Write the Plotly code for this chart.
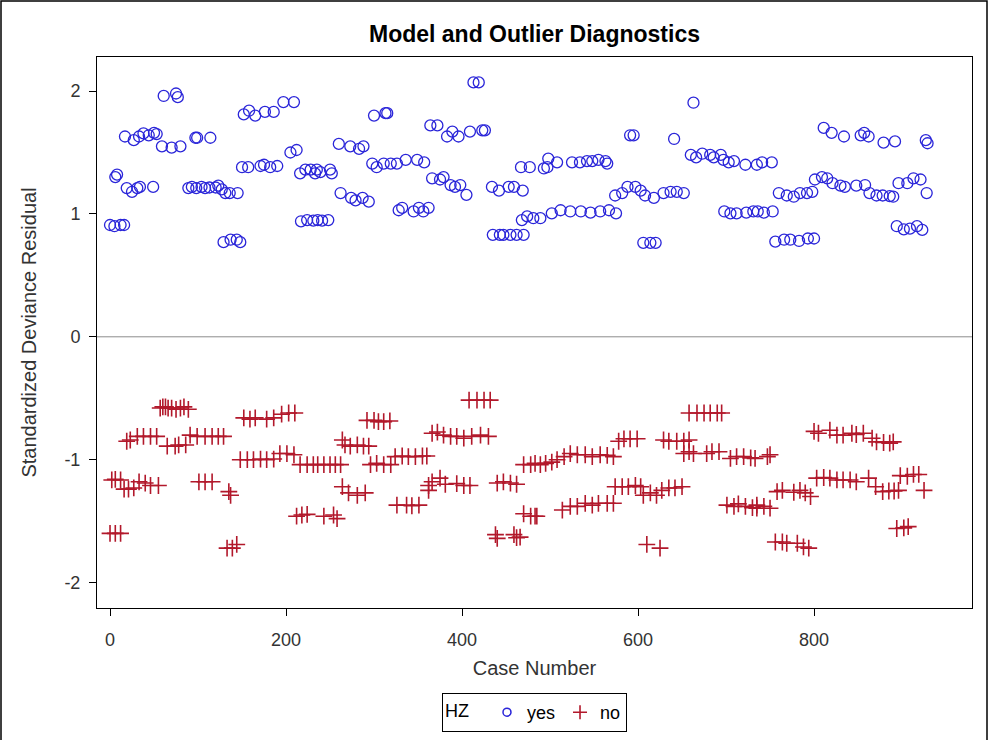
import plotly.graph_objects as go

# ---- data (case number, standardized deviance residual) ----
yes_case = [61, 75, 77,
            152, 158, 165, 176, 186, 197, 209,
            17, 27, 33, 38, 44, 50, 53,
            59, 70, 80,
            97, 99, 114,
            205, 212,
            6, 8,
            19, 25, 31, 34, 49,
            89, 93, 98, 104, 108, 113, 120, 123, 127, 131, 136, 145,
            150, 157, 171, 175, 182, 190,
            216, 222, 228, 233,
            0, 5, 12, 16,
            129, 137, 144, 148,
            217, 224, 231,
            413, 419,
            300, 313, 315,
            364, 372,
            383, 389, 396,
            409, 423, 426,
            260, 273, 283, 288,
            467, 477,
            235, 239, 250, 252,
            298, 303, 311, 319, 326, 336, 349, 357,
            366, 375, 379, 387, 392, 398, 405,
            434, 442, 453, 459, 469,
            262, 274, 279, 287, 294,
            328, 332, 345, 351, 356, 362,
            236, 241, 248,
            468, 474, 481,
            435, 443, 447, 455, 462, 470,
            663,
            591, 595,
            641,
            660, 666, 673, 682, 686, 694, 697, 703, 709,
            722, 735,
            498, 493, 497, 508,
            525, 534, 542, 548, 555, 563, 565,
            574, 582, 588, 597, 603, 608, 618, 629, 637, 644, 652,
            489, 502, 512, 523, 535, 546, 557, 567, 575,
            606, 614, 620,
            698, 705, 712, 723, 731,
            811, 820, 834, 853, 857, 862, 879, 892, 927, 929,
            741, 752,
            801, 809, 815, 821, 830, 835, 848, 858, 863, 871, 878, 886, 890,
            896, 906, 913, 921, 928,
            760, 769, 777, 784, 792, 798,
            736, 743, 753,
            894, 902, 909, 917, 923,
            756, 766, 773, 783, 793, 800]
yes_resid = [1.96, 1.98, 1.95,
             1.81, 1.84, 1.80, 1.83, 1.83, 1.91, 1.91,
             1.63, 1.60, 1.63, 1.655, 1.64, 1.66, 1.65,
             1.55, 1.54, 1.55,
             1.62, 1.62, 1.62,
             1.50, 1.52,
             1.30, 1.32,
             1.21, 1.18, 1.21, 1.22, 1.22,
             1.21, 1.22, 1.21, 1.22, 1.21, 1.215, 1.215, 1.23, 1.20, 1.17, 1.17, 1.17,
             1.38, 1.38, 1.39, 1.40, 1.38, 1.39,
             1.33, 1.36, 1.36, 1.33,
             0.91, 0.90, 0.91, 0.91,
             0.77, 0.79, 0.79, 0.77,
             0.94, 0.95, 0.945,
             2.07, 2.07,
             1.80, 1.82, 1.82,
             1.72, 1.72,
             1.63, 1.67, 1.63,
             1.67, 1.68, 1.68,
             1.57, 1.55, 1.53, 1.55,
             1.38, 1.38,
             1.36, 1.34, 1.36, 1.33,
             1.41, 1.38, 1.41, 1.41, 1.41, 1.44, 1.44, 1.42,
             1.29, 1.28, 1.30, 1.235, 1.22, 1.235, 1.155,
             1.22, 1.19, 1.22, 1.22, 1.19,
             1.17, 1.13, 1.11, 1.13, 1.10,
             1.03, 1.05, 1.02, 1.05, 1.02, 1.05,
             0.95, 0.945, 0.95,
             0.95, 0.98, 0.965,
             0.83, 0.83, 0.83, 0.83, 0.83, 0.83,
             1.905,
             1.64, 1.64,
             1.61,
             1.48, 1.46, 1.49, 1.48, 1.46, 1.48, 1.44, 1.42, 1.43,
             1.40, 1.40,
             1.45, 1.37, 1.38, 1.42,
             1.42, 1.42, 1.43, 1.43, 1.44, 1.43, 1.41,
             1.15, 1.17, 1.22, 1.22, 1.19, 1.15, 1.13, 1.17, 1.18, 1.18, 1.17,
             0.965, 1.005, 1.03, 1.02, 1.02, 1.01, 1.02, 1.03, 1.005,
             0.765, 0.765, 0.765,
             1.02, 1.005, 1.005, 1.01, 1.02,
             1.70, 1.66, 1.63, 1.64, 1.66, 1.63, 1.58, 1.59, 1.60, 1.575,
             1.42, 1.42,
             1.28, 1.30, 1.29, 1.25, 1.23, 1.22, 1.23, 1.235, 1.17, 1.15, 1.15, 1.145, 1.14,
             1.25, 1.25, 1.29, 1.28, 1.17,
             1.17, 1.15, 1.14, 1.17, 1.17, 1.18,
             1.02, 1.01, 1.02,
             0.90, 0.875, 0.88, 0.90, 0.87,
             0.775, 0.79, 0.79, 0.78, 0.80, 0.80]

no_case = [57, 60, 63, 66, 70, 75, 80, 84, 89,
           19, 23, 31, 38, 46, 53,
           65, 74, 78, 86,
           91, 99, 108, 116, 123, 129,
           152, 159, 165, 178, 186, 195, 203, 210,
           148, 156, 163, 171, 178, 186, 193, 201, 209, 216, 224, 231,
           2, 6, 12, 16, 21, 27,
           33, 40, 46, 55,
           101, 108, 116,
           135, 137,
           0, 6, 12,
           133, 139, 144,
           212, 218, 224,
           408, 417, 425, 432,
           292, 300, 305, 311, 318,
           366, 372, 379, 387, 394, 402, 411, 421, 430,
           264, 267, 273, 281, 288, 294,
           324, 332, 339, 347, 355, 360,
           296, 303, 311, 319,
           236, 243, 250, 256, 262,
           362, 366, 375, 381, 394, 402, 409,
           362,
           440, 447, 455, 462,
           264, 271, 281, 290,
           326, 337, 343, 351,
           243, 254, 258,
           470, 478, 483,
           470, 478, 483,
           438, 440,
           459, 462, 466,
           658, 667, 675, 682, 690, 695,
           578, 584, 591, 599,
           629, 635, 644, 652, 658,
           652, 658, 663, 678, 684, 692,
           705, 712, 720, 728, 733,
           489, 495, 502, 508, 516, 523, 531, 540, 548, 557, 565, 572,
           574, 582, 589, 597, 603, 606, 614, 621, 627, 635, 642, 650,
           514, 523, 531, 540, 548, 555, 565, 572,
           485,
           610, 625,
           701, 709, 714, 722, 730, 735,
           800, 805, 818, 826, 833, 843, 848, 856, 866, 871, 879, 886, 890,
           747, 750,
           803, 811, 818, 826, 833, 841, 848, 862,
           870, 878, 885, 891, 896, 925,
           898, 906, 913, 919,
           735, 743, 750,
           758, 764, 777, 784, 790, 796,
           894, 902, 907,
           756, 764, 769, 781, 788, 794]
no_resid = [-0.58, -0.57, -0.57, -0.58, -0.58, -0.59, -0.58, -0.57, -0.59,
            -0.85, -0.84, -0.81, -0.81, -0.81, -0.81,
            -0.89, -0.89, -0.88, -0.88,
            -0.80, -0.81, -0.81, -0.81, -0.81, -0.81,
            -0.66, -0.67, -0.66, -0.67, -0.66, -0.63, -0.62, -0.62,
            -1.00, -1.00, -1.00, -0.995, -1.00, -0.995, -0.95, -0.95, -0.96, -1.04, -1.04, -1.04,
            -1.165, -1.16, -1.165, -1.24, -1.24, -1.23,
            -1.18, -1.19, -1.21, -1.21,
            -1.18, -1.18, -1.18,
            -1.26, -1.29,
            -1.60, -1.60, -1.60,
            -1.72, -1.72, -1.69,
            -1.46, -1.45, -1.445,
            -0.515, -0.515, -0.515, -0.515,
            -0.68, -0.68, -0.69, -0.69, -0.685,
            -0.785, -0.775, -0.80, -0.81, -0.81, -0.825, -0.81, -0.80, -0.81,
            -0.84, -0.88, -0.89, -0.88, -0.89, -0.89,
            -0.975, -0.97, -0.975, -0.975, -0.97, -0.97,
            -1.04, -1.03, -1.04, -1.04,
            -1.04, -1.04, -1.04, -1.04, -1.04,
            -1.21, -1.18, -1.15, -1.20, -1.195, -1.21, -1.21,
            -1.25,
            -1.19, -1.18, -1.19, -1.20,
            -1.22, -1.27, -1.29, -1.27,
            -1.37, -1.37, -1.375, -1.37,
            -1.46, -1.45, -1.48,
            -1.04, -1.04, -1.03,
            -1.44, -1.46, -1.46,
            -1.61, -1.64,
            -1.61, -1.635, -1.63,
            -0.62, -0.62, -0.62, -0.62, -0.62, -0.62,
            -0.85, -0.83, -0.83, -0.83,
            -0.84, -0.85, -0.85, -0.85, -0.84,
            -0.95, -0.935, -0.95, -0.95, -0.935, -0.935,
            -0.99, -0.975, -0.975, -0.985, -0.99,
            -1.04, -1.03, -1.02, -1.00, -0.975, -0.95, -0.96, -0.96, -0.975, -0.96, -0.965, -0.975,
            -1.22, -1.22, -1.22, -1.21, -1.22, -1.29, -1.27, -1.29, -1.25, -1.23, -1.23, -1.22,
            -1.41, -1.38, -1.38, -1.355, -1.37, -1.355, -1.355, -1.355,
            -1.46,
            -1.69, -1.72,
            -1.37, -1.38, -1.36, -1.38, -1.39, -1.395,
            -0.77, -0.785, -0.76, -0.80, -0.80, -0.785, -0.795, -0.785, -0.825, -0.855, -0.86, -0.865, -0.855,
            -0.975, -0.96,
            -1.15, -1.145, -1.15, -1.165, -1.165, -1.165, -1.18, -1.15,
            -1.22, -1.26, -1.255, -1.255, -1.25, -1.25,
            -1.13, -1.135, -1.12, -1.12,
            -1.37, -1.38, -1.395,
            -1.26, -1.25, -1.265, -1.25, -1.27, -1.30,
            -1.56, -1.555, -1.545,
            -1.67, -1.67, -1.68, -1.68, -1.71, -1.72]

x_ticks = [0, 200, 400, 600, 800]
y_ticks = [-2, -1, 0, 1, 2]

n = min(len(yes_case), len(yes_resid))
m = min(len(no_case), len(no_resid))

BLUE = "#2A25D9"
RED = "#B2182B"
FONT = "Liberation Sans, Arial, sans-serif"
TXT = "#333333"

fig = go.Figure()
fig.add_trace(go.Scatter(
    x=yes_case[:n], y=yes_resid[:n], mode="markers", name="yes", showlegend=False,
    marker=dict(symbol="circle-open", size=11, color=BLUE, line=dict(width=1.3, color=BLUE)),
))
fig.add_trace(go.Scatter(
    x=no_case[:m], y=no_resid[:m], mode="markers", name="no", showlegend=False,
    marker=dict(symbol="cross-thin-open", size=12, color=RED, line=dict(width=1.6, color=RED)),
))
# legend entries (smaller symbols as in the reference legend)
fig.add_trace(go.Scatter(
    x=[None], y=[None], mode="markers", name="yes",
    marker=dict(symbol="circle-open", size=8, color=BLUE, line=dict(width=1.5, color=BLUE)),
))
fig.add_trace(go.Scatter(
    x=[None], y=[None], mode="markers", name="no",
    marker=dict(symbol="cross-thin-open", size=10, color=RED, line=dict(width=1.6, color=RED)),
))

# zero reference line
fig.add_shape(type="line", xref="paper", x0=0, x1=1, yref="y", y0=0, y1=0,
              line=dict(color="#8c8c8c", width=1), layer="below")

# outer frame of the graphic
L, R, T, B = 97, 17, 57, 132
W, H = 989, 740
pw, ph = W - L - R, H - T - B
fig.add_shape(type="rect", xref="paper", yref="paper",
              x0=(1 - L) / pw, x1=(987 - L) / pw,
              y0=(H - B - 745) / ph, y1=(H - B - 1) / ph,
              line=dict(color="#000000", width=1.5), fillcolor="rgba(0,0,0,0)")

axis_common = dict(
    showgrid=False, zeroline=False, showline=True, mirror=True,
    linecolor="#000000", linewidth=1, ticks="outside", ticklen=7,
    tickcolor="#000000", tickwidth=1,
    tickfont=dict(family=FONT, size=18, color=TXT),
    title_font=dict(family=FONT, size=20, color=TXT),
)

fig.update_layout(
    width=W, height=H,
    margin=dict(l=L, r=R, t=T, b=B, autoexpand=False),
    paper_bgcolor="white", plot_bgcolor="white",
    title=dict(text="<b>Model and Outlier Diagnostics</b>", x=(L + pw / 2) / W, xanchor="center",
               y=1 - 34 / H, yanchor="middle",
               font=dict(family=FONT, size=23, color="#000000")),
    xaxis=dict(range=[-14.8, 979.5], tickvals=x_ticks, ticktext=[str(v) for v in x_ticks],
               title=dict(text="Case Number", standoff=12), ticklabelstandoff=8, **axis_common),
    yaxis=dict(range=[-2.207, 2.277], tickvals=y_ticks, ticktext=[str(v) for v in y_ticks],
               title=dict(text="Standardized Deviance Residual", standoff=22), ticklabelstandoff=5,
               **axis_common),
    legend=dict(orientation="h", x=0.5, xanchor="center", y=(H - B - 712.5) / ph, yanchor="middle",
                bordercolor="#000000", borderwidth=1, bgcolor="white",
                title=dict(text="HZ  ", font=dict(family=FONT, size=18, color="#000000")),
                font=dict(family=FONT, size=18, color="#000000"),
                itemwidth=30, tracegroupgap=0),
    showlegend=True,
)

fig.write_html("out.html")
